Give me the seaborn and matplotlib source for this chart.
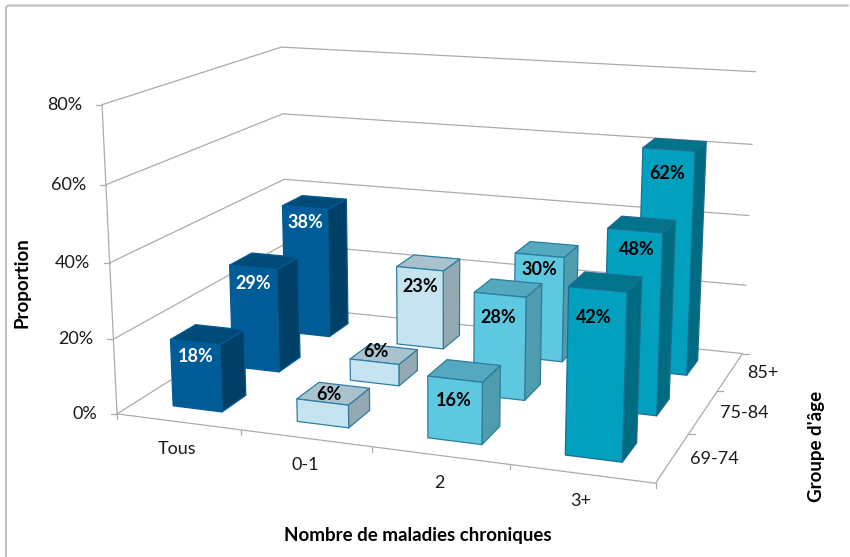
import numpy as np
import pandas as pd
import seaborn as sns
import matplotlib
matplotlib.use("Agg")
import matplotlib.pyplot as plt
from matplotlib.patches import Polygon

# Chart content
diseases = ["Tous", "0-1", "2", "3+"]
age_groups = ["69-74", "75-84", "85+"]
tous = [18, 29, 38]
zero_one = [6, 6, 23]
two = [16, 28, 30]
three_plus = [42, 48, 62]
z_ticks = [0, 20, 40, 60, 80]

# Height (in % units) at which each value label sits on its bar's front plane
label_z = [[14.3, 24.6, 33.5], [8.3, 8.8, 17.8], [10.5, 21.8, 26], [35, 43.2, 55.5]]
# Sideways nudge of each value label, as a share of a category width
label_shift = [[0, 0, 0], [0.05, 0.015, 0], [-0.01, -0.015, 0], [-0.02, 0.02, -0.01]]

# Face colours per series: front, top, side, edge
face_colours = [
    ("#005C97", "#004A78", "#003F66", "#005C97"),
    ("#C6E4F0", "#A9C3CE", "#94A9B1", "#2E7EA6"),
    ("#5EC8E0", "#55A9BE", "#4F9CAF", "#2C7C9E"),
    ("#00A0BE", "#00748B", "#006C81", "#1F6C90"),
]
text_colours = ["white", "black", "black", "black"]

df = pd.DataFrame(
    {"serie": np.repeat(diseases, 3), "age": age_groups * 4,
     "valeur": tous + zero_one + two + three_plus}
)
df["col"] = df["serie"].map({d: i for i, d in enumerate(diseases)})
df["row"] = df["age"].map({a: i for i, a in enumerate(age_groups)})

# Camera: a projective matrix calibrated on the corners of the chart box
# Box coordinates are (category, depth, percent)
box_world = [(0, 0, 0), (0, 0, 20), (0, 0, 40), (0, 0, 60), (0, 0, 80),
             (0, 3, 0), (0, 3, 20), (0, 3, 40), (0, 3, 60), (0, 3, 80),
             (4, 3, 0), (4, 3, 20), (4, 3, 40), (4, 3, 60), (4, 3, 80),
             (4, 0, 0), (1, 0, 0), (2, 0, 0), (3, 0, 0), (4, 1, 0), (4, 2, 0)]
box_pixel = [(117, 413), (113, 338), (110, 262), (107, 184), (102, 106),
             (288, 308), (286, 244), (284, 179), (283, 113), (280, 47),
             (741, 353), (746, 285), (749, 216), (752, 145), (756, 72),
             (655, 482), (241, 430), (372, 449), (509, 467), (690, 433), (718, 390)]


def calibrate(world, pixel):
    rows, rhs = [], []
    for (x, y, z), (u, v) in zip(world, pixel):
        z = z / 20
        rows.append([x, y, z, 1, 0, 0, 0, 0, -u * x, -u * y, -u * z])
        rhs.append(u)
        rows.append([0, 0, 0, 0, x, y, z, 1, -v * x, -v * y, -v * z])
        rhs.append(v)
    p = np.linalg.lstsq(np.array(rows, float), np.array(rhs, float), rcond=None)[0]
    return np.append(p, 1).reshape(3, 4)


CAMERA = calibrate(box_world, box_pixel)


def project(x, y, z):
    u, v, w = CAMERA @ np.array([x, y, z / 20, 1.0])
    return u / w, v / w


sns.set_theme(style="white")
plt.rcParams["font.family"] = ["Lato", "DejaVu Sans"]

fig = plt.figure(figsize=(8.5, 5.57), dpi=100)
ax = fig.add_axes([0, 0, 1, 1])
ax.set_xlim(0, 850)
ax.set_ylim(557, 0)
ax.axis("off")

# Outer chart frame: top and left edges only
GREY = "#ABABAB"
ax.plot([848, 8, 6, 6], [5.5, 5.5, 7.5, 557], color="#BEBEBE", lw=1.5, zorder=1)

# Wall gridlines, floor outline and tick marks
segments = []
for z in z_ticks:
    segments.append([project(0, 0, z), project(0, 3, z), project(4, 3, z)])
    u, v = project(0, 0, z)
    segments.append([(u - 6, v), (u, v)])
segments.append([project(0, 0, 0), project(0, 0, 80)])
segments.append([project(0, 0, 0), project(4, 0, 0), project(4, 3, 0)])
for i in range(5):
    u, v = project(i, 0, 0)
    segments.append([(u, v), (u, v + 5)])
for j in range(1, 4):
    u, v = project(4, j, 0)
    segments.append([(u, v), (u + 6, v)])
lines = pd.DataFrame(
    [{"u": u, "v": v, "seg": k} for k, seg in enumerate(segments) for u, v in seg]
)
sns.lineplot(data=lines, x="u", y="v", units="seg", estimator=None, sort=False,
             color=GREY, lw=0.9, ax=ax, legend=False, zorder=2)
ax.set_xlim(0, 850)
ax.set_ylim(557, 0)
ax.axis("off")

# Bars, drawn from the back row to the front one
BAR_LOW, BAR_HIGH = 0.3, 0.7
order = df.sort_values(["row", "col"], ascending=[False, True])
zo = 3
for rec in order.itertuples():
    x0, x1 = rec.col + BAR_LOW, rec.col + BAR_HIGH
    y0, y1 = rec.row + BAR_LOW, rec.row + BAR_HIGH
    h = rec.valeur
    front, top, side, edge = face_colours[rec.col]
    faces = [
        (side, [(x1, y0, 0), (x1, y1, 0), (x1, y1, h), (x1, y0, h)]),
        (top, [(x0, y0, h), (x1, y0, h), (x1, y1, h), (x0, y1, h)]),
        (front, [(x0, y0, 0), (x1, y0, 0), (x1, y0, h), (x0, y0, h)]),
    ]
    for colour, corners in faces:
        ax.add_patch(Polygon([project(*c) for c in corners], closed=True, facecolor=colour,
                             edgecolor=edge, lw=0.9, joinstyle="round", zorder=zo))
    zo += 1
    u, v = project(rec.col + 0.5 + label_shift[rec.col][rec.row], y0, label_z[rec.col][rec.row])
    ax.text(u, v, f"{h}%", ha="center", va="center", fontsize=13, fontweight="bold",
            color=text_colours[rec.col], zorder=100)

# Tick labels
TICK_SIZE = 13
TICK_COLOUR = "#1A1A1A"
for z in z_ticks:
    u, v = project(0, 0, z)
    ax.text(u - 20, v, f"{z}%", ha="right", va="center", fontsize=TICK_SIZE, color=TICK_COLOUR)
for i, name in enumerate(diseases):
    u, v = project(i + 0.5, 0, 0)
    ax.text(u - 1, v + 27, name, ha="center", va="center", fontsize=TICK_SIZE, color=TICK_COLOUR)
for j, name in enumerate(age_groups):
    u, v = project(4, j + 0.5, 0)
    ax.text(u + 17, v + 1, name, ha="left", va="center", fontsize=TICK_SIZE, color=TICK_COLOUR)

# Axis titles
ax.text(22, 283, "Proportion", rotation=90, ha="center", va="center",
        fontsize=13.5, fontweight="bold", color="black")
ax.text(418, 535, "Nombre de maladies chroniques", ha="center", va="center",
        fontsize=13.5, fontweight="bold", color="black")
ax.text(817, 446, "Groupe d'âge", rotation=90, ha="center", va="center",
        fontsize=13.5, fontweight="bold", color="black")

fig.savefig("out.png", dpi=100)
